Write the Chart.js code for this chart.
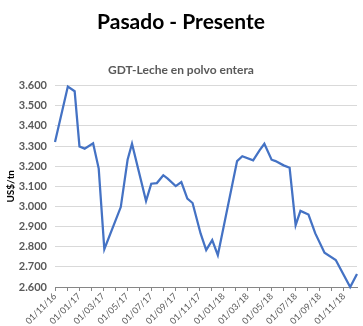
<!DOCTYPE html>
<html>
<head>
<meta charset="utf-8">
<script src="https://cdn.jsdelivr.net/npm/chart.js@4.4.1/dist/chart.umd.min.js"></script>
<style>
  html, body { margin: 0; padding: 0; background: #fff; }
  #wrap { position: relative; width: 363px; height: 326px; }
</style>
</head>
<body>
<div id="wrap"><canvas id="gdtChart" width="363" height="326"></canvas></div>
<script>
// GDT - whole milk powder, US$/tn
const auctionDates = [
  '2016-11-01', '2016-12-03', '2016-12-20', '2017-01-02', '2017-01-15', '2017-02-06',
  '2017-02-20', '2017-03-04', '2017-04-15', '2017-05-02', '2017-05-13', '2017-06-18',
  '2017-07-01', '2017-07-15', '2017-08-01', '2017-08-12', '2017-09-02', '2017-09-16',
  '2017-10-01', '2017-10-14', '2017-11-04', '2017-11-18', '2017-12-03', '2017-12-17',
  '2018-02-05', '2018-02-18', '2018-03-15', '2018-04-01', '2018-04-13', '2018-05-01',
  '2018-05-11', '2018-06-01', '2018-06-16', '2018-07-01', '2018-07-13', '2018-08-03',
  '2018-08-20', '2018-09-13', '2018-10-11', '2018-11-17', '2018-12-04'
];
const prices = [
  3320, 3595, 3572, 3298, 3287, 3314,
  3188, 2788, 2997, 3232, 3311, 3027,
  3113, 3116, 3155, 3138, 3101, 3121,
  3039, 3017, 2866, 2783, 2833, 2758,
  3225, 3249, 3229, 3278, 3311, 3232,
  3225, 3204, 3192, 2907, 2978, 2960,
  2866, 2770, 2734, 2600, 2665
];
const xTickLabels = [
  '01/11/16', '01/01/17', '01/03/17', '01/05/17', '01/07/17', '01/09/17', '01/11/17',
  '01/01/18', '01/03/18', '01/05/18', '01/07/18', '01/09/18', '01/11/18'
];

// months elapsed since 01/11/16
function monthsFromStart(iso) {
  const [y, m, d] = iso.split('-').map(Number);
  return (y - 2016) * 12 + (m - 11) + (d - 1) / 30;
}

const points = auctionDates.map((d, i) => ({ x: monthsFromStart(d), y: prices[i] }));
const lastX = points[points.length - 1].x;

const font = 'Lato, "Open Sans", sans-serif';

const ctx = document.getElementById('gdtChart').getContext('2d');
const gdtChart = new Chart(ctx, {
  type: 'line',
  data: {
    datasets: [{
      data: points,
      borderColor: '#4472C4',
      borderWidth: 2.25,
      pointRadius: 0,
      tension: 0,
      clip: false
    }]
  },
  options: {
    responsive: false,
    animation: false,
    layout: { padding: { top: 10, right: 6, left: 5, bottom: 0 } },
    plugins: {
      legend: { display: false },
      tooltip: { enabled: false },
      title: {
        display: true,
        text: 'Pasado - Presente',
        color: '#000',
        font: { family: font, size: 21, weight: 'bold' },
        padding: { top: 0, bottom: 28 }
      },
      subtitle: {
        display: true,
        text: 'GDT-Leche en polvo entera',
        color: '#595959',
        font: { family: font, size: 12, weight: 'bold' },
        padding: { top: 0, bottom: 8 }
      }
    },
    scales: {
      x: {
        type: 'linear',
        min: 0,
        max: lastX,
        afterBuildTicks: function (scale) {
          scale.ticks = scale.ticks.filter(t => Number.isInteger(t.value));
        },
        afterFit: function (scale) { scale.height = 39; },
        ticks: {
          stepSize: 1,
          autoSkip: false,
          maxRotation: 45,
          minRotation: 45,
          padding: 0,
          color: '#595959',
          font: { family: font, size: 9 },
          callback: function (value) {
            return value % 2 === 0 ? (xTickLabels[value / 2] || '') : '';
          }
        },
        grid: {
          drawOnChartArea: false,
          drawTicks: true,
          tickLength: 4,
          color: '#868686'
        },
        border: { display: true, color: '#868686', width: 1 }
      },
      y: {
        min: 2600,
        max: 3600,
        afterFit: function (scale) { scale.width = 50; },
        ticks: {
          stepSize: 100,
          padding: 8,
          color: '#595959',
          font: { family: font, size: 11, weight: 'bold' },
          callback: function (value) {
            return (value / 1000).toFixed(3);
          }
        },
        grid: {
          color: '#d9d9d9',
          drawTicks: false
        },
        border: { display: false },
        title: {
          display: true,
          text: 'US$/tn',
          color: '#000',
          font: { family: font, size: 10, weight: 'bold' },
          padding: 0
        }
      }
    }
  }
});
</script>
</body>
</html>
